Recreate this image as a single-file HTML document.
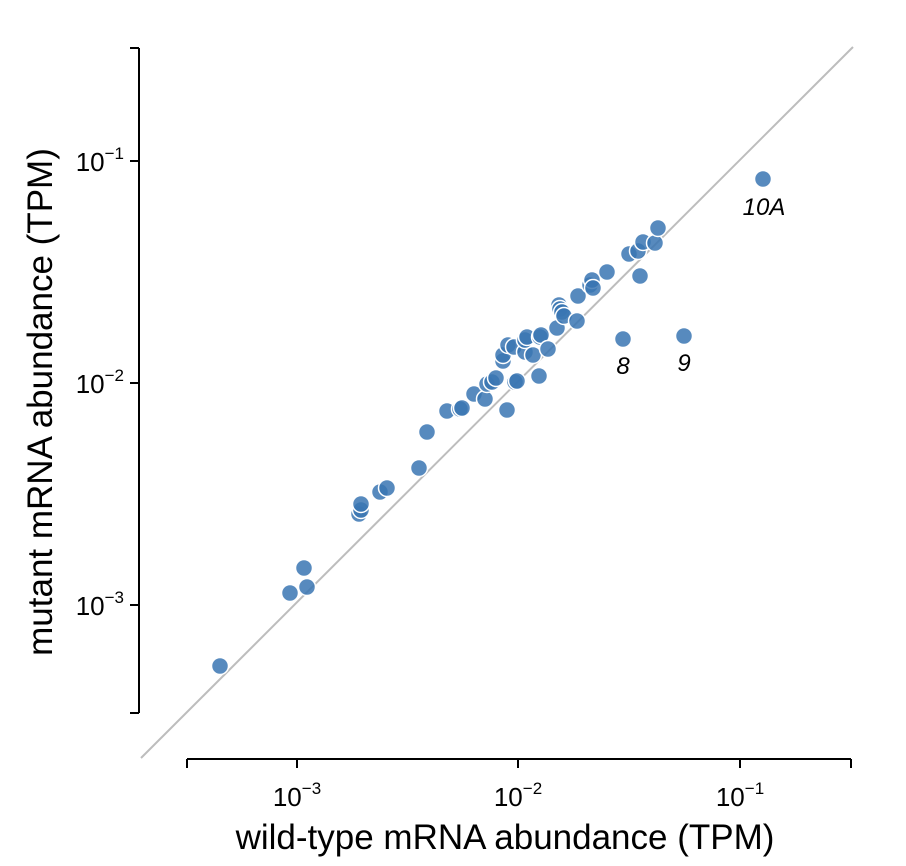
<!DOCTYPE html>
<html><head><meta charset="utf-8"><style>body{margin:0;background:#fff}svg{display:block}</style></head><body>
<svg width="906" height="866" xmlns="http://www.w3.org/2000/svg" font-family="'Liberation Sans', sans-serif">
<line x1="141" y1="758" x2="853" y2="47" stroke="#bdbdbd" stroke-width="2"/>
<g stroke="#000" stroke-width="2" fill="none">
<line x1="139" y1="48" x2="139" y2="713"/>
<line x1="130" y1="48" x2="139" y2="48"/><line x1="130" y1="161" x2="139" y2="161"/><line x1="130" y1="383" x2="139" y2="383"/><line x1="130" y1="605" x2="139" y2="605"/><line x1="130" y1="713" x2="139" y2="713"/>
<line x1="187" y1="759" x2="851" y2="759"/>
<line x1="187" y1="759" x2="187" y2="768"/><line x1="297" y1="759" x2="297" y2="768"/><line x1="518" y1="759" x2="518" y2="768"/><line x1="740" y1="759" x2="740" y2="768"/><line x1="851" y1="759" x2="851" y2="768"/>
</g>
<g font-size="26" fill="#000">
<text x="124" y="171" text-anchor="end">10<tspan font-size="17" dy="-12">−1</tspan></text>
<text x="124" y="393" text-anchor="end">10<tspan font-size="17" dy="-12">−2</tspan></text>
<text x="124" y="615" text-anchor="end">10<tspan font-size="17" dy="-12">−3</tspan></text>
<text x="297" y="806" text-anchor="middle">10<tspan font-size="17" dy="-12">−3</tspan></text>
<text x="518" y="806" text-anchor="middle">10<tspan font-size="17" dy="-12">−2</tspan></text>
<text x="740" y="806" text-anchor="middle">10<tspan font-size="17" dy="-12">−1</tspan></text>
<text x="505" y="849" text-anchor="middle" font-size="35">wild-type mRNA abundance (TPM)</text>
<text transform="translate(52,402) rotate(-90)" text-anchor="middle" font-size="35">mutant mRNA abundance (TPM)</text>
</g>
<g fill="#3a76b3" fill-opacity="0.85" stroke="#fff" stroke-width="1.5">
<circle cx="220" cy="666" r="8.5"/><circle cx="290" cy="593" r="8.5"/><circle cx="304" cy="568" r="8.5"/><circle cx="307" cy="587" r="8.5"/>
<circle cx="359" cy="514" r="8.5"/><circle cx="361" cy="510" r="8.5"/><circle cx="361" cy="504" r="8.5"/><circle cx="380" cy="492" r="8.5"/><circle cx="387" cy="488" r="8.5"/>
<circle cx="419" cy="468" r="8.5"/><circle cx="427" cy="432" r="8.5"/><circle cx="447" cy="411" r="8.5"/><circle cx="460" cy="409" r="8.5"/><circle cx="462" cy="408" r="8.5"/>
<circle cx="474" cy="394" r="8.5"/><circle cx="485" cy="399" r="8.5"/><circle cx="487" cy="384" r="8.5"/><circle cx="492" cy="382" r="8.5"/><circle cx="496" cy="378" r="8.5"/>
<circle cx="503" cy="361" r="8.5"/><circle cx="503" cy="355" r="8.5"/><circle cx="508" cy="345" r="8.5"/><circle cx="514" cy="347" r="8.5"/><circle cx="515" cy="382" r="8.5"/>
<circle cx="507" cy="410" r="8.5"/><circle cx="517" cy="381" r="8.5"/><circle cx="525" cy="352" r="8.5"/><circle cx="525" cy="340" r="8.5"/><circle cx="527" cy="337" r="8.5"/>
<circle cx="533" cy="355" r="8.5"/><circle cx="539" cy="376" r="8.5"/><circle cx="540" cy="337" r="8.5"/><circle cx="541" cy="335" r="8.5"/><circle cx="548" cy="349" r="8.5"/>
<circle cx="557" cy="328" r="8.5"/><circle cx="559" cy="305" r="8.5"/><circle cx="560" cy="309" r="8.5"/><circle cx="562" cy="312" r="8.5"/><circle cx="564" cy="316" r="8.5"/>
<circle cx="577" cy="321" r="8.5"/><circle cx="578" cy="296" r="8.5"/><circle cx="590" cy="285" r="8.5"/><circle cx="592" cy="280" r="8.5"/><circle cx="593" cy="288" r="8.5"/>
<circle cx="607" cy="272" r="8.5"/><circle cx="623" cy="339" r="8.5"/><circle cx="629" cy="254" r="8.5"/><circle cx="638" cy="251" r="8.5"/><circle cx="643" cy="242" r="8.5"/>
<circle cx="640" cy="276" r="8.5"/><circle cx="655" cy="243" r="8.5"/><circle cx="658" cy="228" r="8.5"/><circle cx="684" cy="336" r="8.5"/><circle cx="763" cy="179" r="8.5"/>
</g>
<g font-size="24" font-style="italic" fill="#000" text-anchor="middle">
<text x="623" y="374">8</text><text x="684" y="371">9</text><text x="764" y="215">10A</text>
</g>
</svg>
</body></html>
